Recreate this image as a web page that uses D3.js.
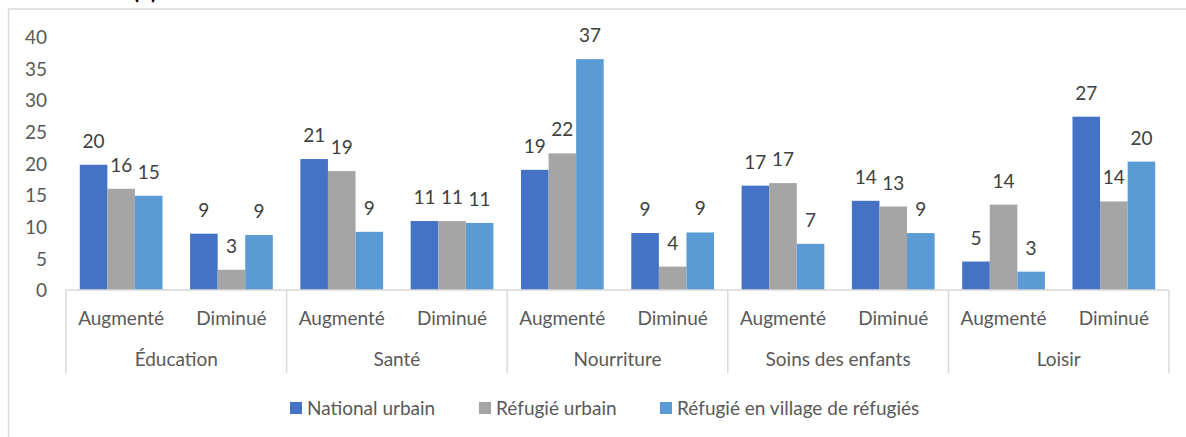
<!DOCTYPE html>
<meta charset="UTF-8">
<style>
body { margin: 0; background: #fff; }
text { font-family: Lato, "Liberation Sans", sans-serif; }
.tick text { fill: #595959; font-size: 19px; }
.sub { fill: #595959; font-size: 19px; }
.grp { fill: #595959; font-size: 19px; }
.lbl { fill: #404040; font-size: 19px; }
.leg { fill: #595959; font-size: 19px; }
</style>
<body>
<script src="https://d3js.org/d3.v7.min.js"></script>
<script>

var groups = ["Éducation", "Santé", "Nourriture", "Soins des enfants", "Loisir"];
var subs = ["Augmenté", "Diminué"];
var series = ["National urbain", "Réfugié urbain", "Réfugié en village de réfugiés"];
var colors = ["#4472C4", "#A5A5A5", "#5B9BD5"];

// one value per group x sub, in order
var nationalUrbain = [19.8, 8.9, 20.7, 10.9, 19.0, 9.0, 16.5, 14.1, 4.5, 27.4];
var refugieUrbain  = [16.0, 3.2, 18.8, 10.9, 21.6, 3.7, 16.9, 13.2, 13.5, 14.0];
var refugieVillage = [14.9, 8.7, 9.2, 10.6, 36.5, 9.1, 7.3, 9.0, 2.9, 20.3];
var yTicks = [0, 5, 10, 15, 20, 25, 30, 35, 40];

var values = [nationalUrbain, refugieUrbain, refugieVillage];

var W = 1186, H = 437;
var svg = d3.select("body").append("svg")
    .attr("width", W).attr("height", H);

// chart frame
svg.append("rect")
    .attr("x", 8.5).attr("y", 9)
    .attr("width", 1300).attr("height", 600)
    .attr("fill", "none").attr("stroke", "#D9D9D9").attr("stroke-width", 1.5);

// title, cut off at the top
svg.append("text")
    .attr("x", 145).attr("y", -1)
    .attr("text-anchor", "middle")
    .style("font-size", "22px").style("font-weight", "bold").attr("fill", "#000")
    .text("(b)");

var slots = [];
groups.forEach(function(g) {
  subs.forEach(function(s) { slots.push(g + "|" + s); });
});

var x0 = d3.scaleBand().domain(slots).range([66, 1169]).padding(0);
var x1 = d3.scaleBand().domain(series).range([0, x0.bandwidth()])
    .paddingInner(0).paddingOuter(0.5);
var y = d3.scaleLinear().domain([0, 40]).range([290, 37]);

// y axis (labels only)
var yAxis = svg.append("g")
    .attr("transform", "translate(47,0)")
    .call(d3.axisLeft(y).tickValues(yTicks).tickSize(0).tickPadding(0));
yAxis.select(".domain").remove();
yAxis.selectAll("text").attr("dy", "0.35em");

// bars
series.forEach(function(name, si) {
  var g = svg.append("g");
  g.selectAll("rect")
    .data(values[si])
    .enter().append("rect")
      .attr("x", function(d, i) { return x0(slots[i]) + x1(name); })
      .attr("y", function(d) { return y(d); })
      .attr("width", x1.bandwidth())
      .attr("height", function(d) { return y(0) - y(d); })
      .attr("fill", colors[si]);

  g.selectAll("text")
    .data(values[si])
    .enter().append("text")
      .attr("class", "lbl")
      .attr("x", function(d, i) { return x0(slots[i]) + x1(name) + x1.bandwidth() / 2; })
      .attr("y", function(d) { return y(d) - 17; })
      .attr("text-anchor", "middle")
      .text(function(d) { return Math.round(d); });
});

// category axis
var axisCol = "#D9D9D9";
svg.append("line")
    .attr("x1", 66).attr("x2", 1169).attr("y1", y(0)).attr("y2", y(0))
    .attr("stroke", axisCol).attr("stroke-width", 1.5);

var groupScale = d3.scaleBand().domain(groups).range([66, 1169]);
var seps = groups.map(function(g) { return groupScale(g); }).concat([1169]);
svg.selectAll("line.sep")
    .data(seps)
    .enter().append("line")
      .attr("class", "sep")
      .attr("x1", function(d) { return d; }).attr("x2", function(d) { return d; })
      .attr("y1", y(0)).attr("y2", 373)
      .attr("stroke", axisCol).attr("stroke-width", 1.5);

svg.selectAll("text.sub")
    .data(slots)
    .enter().append("text")
      .attr("class", "sub")
      .attr("x", function(d) { return x0(d) + x0.bandwidth() / 2; })
      .attr("y", 318)
      .attr("dy", "0.35em")
      .attr("text-anchor", "middle")
      .text(function(d) { return d.split("|")[1]; });

svg.selectAll("text.grp")
    .data(groups)
    .enter().append("text")
      .attr("class", "grp")
      .attr("x", function(d) { return groupScale(d) + groupScale.bandwidth() / 2; })
      .attr("y", 359)
      .attr("dy", "0.35em")
      .attr("text-anchor", "middle")
      .text(function(d) { return d; });

// legend
var legX = [290, 479, 660];
var leg = svg.selectAll("g.legend")
    .data(series)
    .enter().append("g")
      .attr("class", "legend")
      .attr("transform", function(d, i) { return "translate(" + legX[i] + ",408)"; });
leg.append("rect")
    .attr("x", 0).attr("y", -6).attr("width", 12).attr("height", 12)
    .attr("fill", function(d, i) { return colors[i]; });
leg.append("text")
    .attr("class", "leg")
    .attr("x", 17).attr("dy", "0.35em")
    .text(function(d) { return d; });

</script>
</body>
